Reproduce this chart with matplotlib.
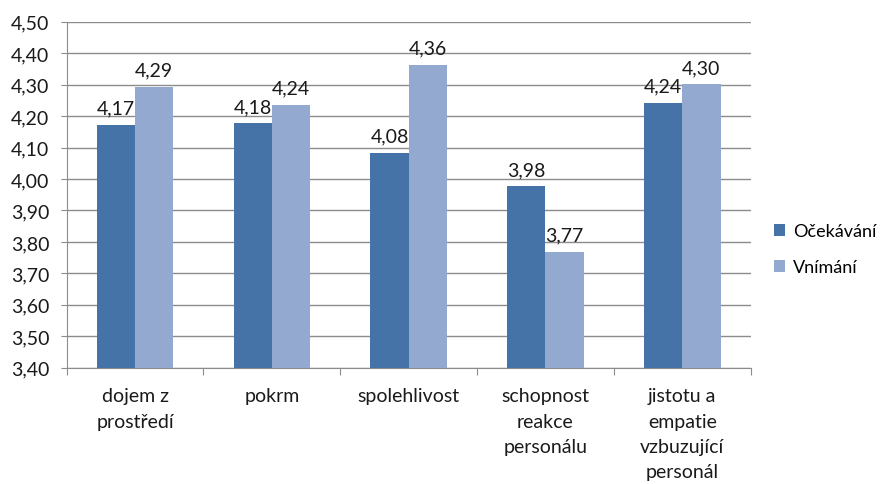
import numpy as np
import matplotlib.pyplot as plt

categories = ['dojem z\nprostředí', 'pokrm', 'spolehlivost',
              'schopnost\nreakce\npersonálu', 'jistotu a\nempatie\nvzbuzující\npersonál']
ocekavani = [4.172, 4.177, 4.083, 3.977, 4.242]
vnimani = [4.292, 4.235, 4.362, 3.768, 4.301]
series_names = ['Očekávání', 'Vnímání']

plt.rcParams['font.family'] = ['Lato', 'DejaVu Sans']

fig = plt.figure(figsize=(8.87, 4.85), dpi=100)
ax = fig.add_axes([0.0752, 0.2398, 0.7711, 0.7132])

x = np.arange(len(categories))
w = 0.28
b1 = ax.bar(x - w / 2, ocekavani, w, color='#4572A7', label=series_names[0], zorder=3)
b2 = ax.bar(x + w / 2, vnimani, w, color='#93A9CF', label=series_names[1], zorder=3)

for bars, vals in ((b1, ocekavani), (b2, vnimani)):
    for r, v in zip(bars, vals):
        ax.annotate(('%.2f' % v).replace('.', ','),
                    (r.get_x() + r.get_width() / 2, v),
                    xytext=(0, 6), textcoords='offset points',
                    ha='center', va='bottom', fontsize=14, color='#1a1a1a')

ax.set_ylim(3.4, 4.5)
ax.set_xlim(-0.5, len(categories) - 0.5)
yt = np.round(np.arange(3.4, 4.501, 0.1), 2)
ax.set_yticks(yt)
ax.set_yticklabels([('%.2f' % t).replace('.', ',') for t in yt], fontsize=14, color='#1a1a1a')
ax.yaxis.grid(True, color='#8c8c8c', linewidth=1, zorder=0)

# category labels sit between boundary ticks
ax.set_xticks(np.arange(-0.5, len(categories), 1.0))
ax.set_xticklabels([])
ax.set_xticks(x, minor=True)
ax.set_xticklabels(categories, minor=True, fontsize=14, color='#1a1a1a', linespacing=1.6)
ax.tick_params(axis='x', which='minor', length=0, pad=14)
ax.tick_params(axis='x', which='major', length=5, color='#8c8c8c', direction='out')
ax.tick_params(axis='y', length=4.5, color='#8c8c8c', pad=8)

for s in ['top', 'right']:
    ax.spines[s].set_visible(False)
for s in ['left', 'bottom']:
    ax.spines[s].set_color('#8c8c8c')

ax.legend(loc='center left', bbox_to_anchor=(1.01, 0.343), frameon=False, fontsize=13,
          handlelength=0.65, handleheight=0.65, handletextpad=0.4, labelspacing=1.1)

fig.savefig('out.png', dpi=100)
